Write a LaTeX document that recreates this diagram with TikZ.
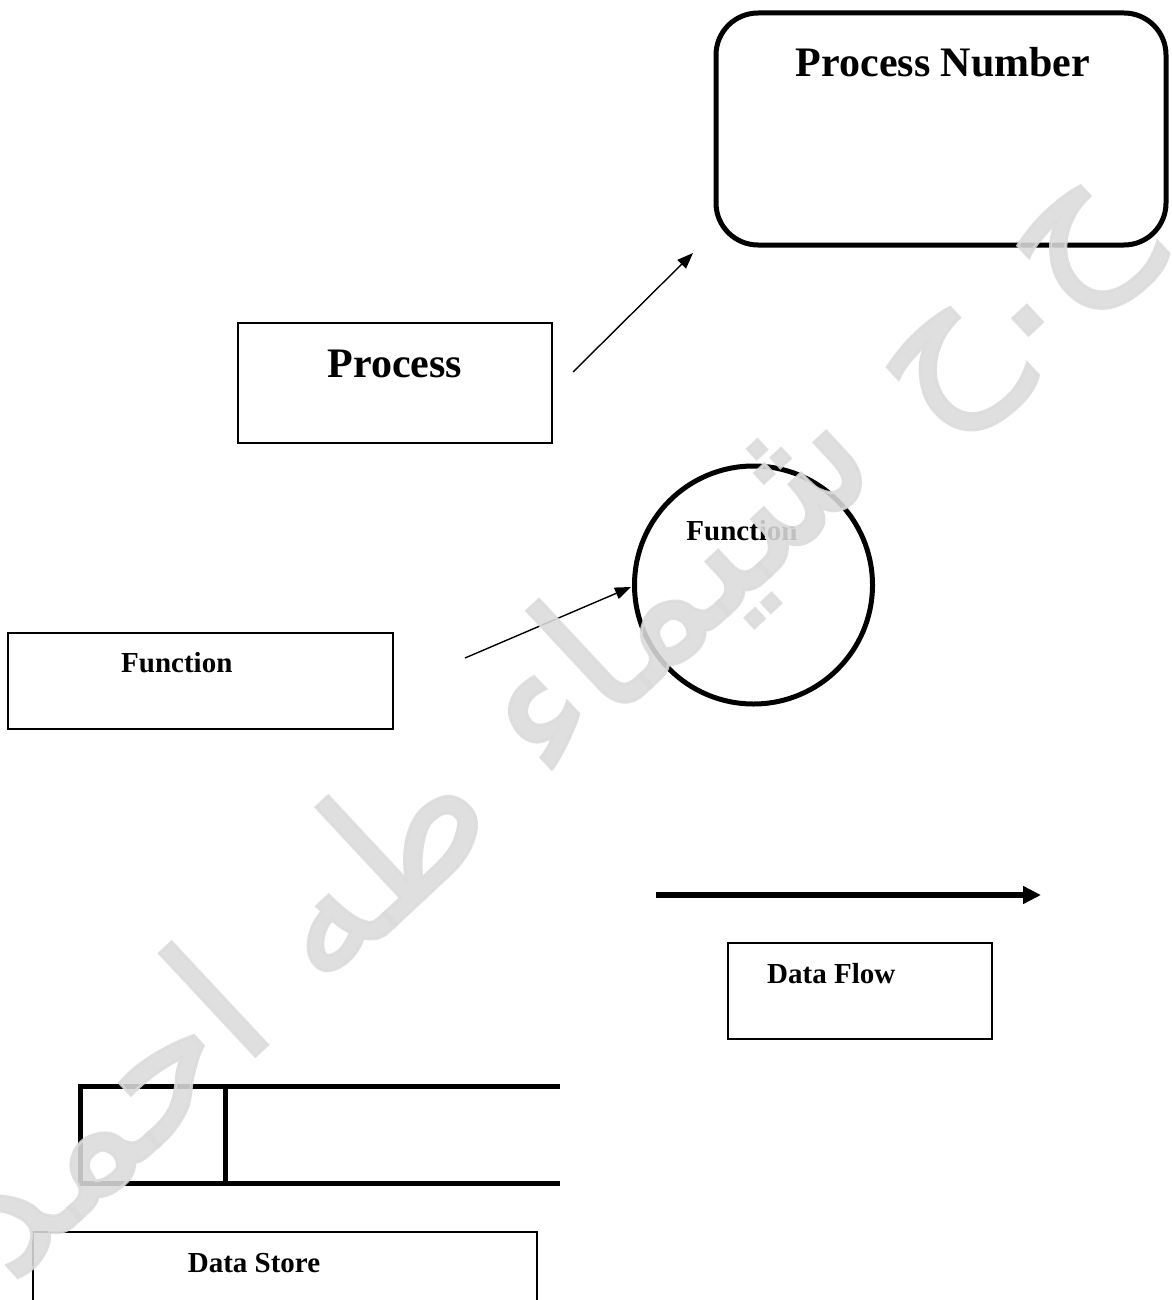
\documentclass[tikz,border=0pt]{standalone}
\usepackage{fontspec}
\setmainfont{Liberation Serif}
\newfontfamily\arabicfont[Script=Arabic,FakeBold=1.6]{DejaVu Sans}
\TeXXeTstate=1
\usetikzlibrary{arrows.meta,shapes.geometric}
\begin{document}
\begin{tikzpicture}[x=1pt,y=-1pt,
  thinbox/.style={draw, rectangle, line width=1.6pt, inner sep=0pt},
  bigtext/.style={font=\fontsize{42}{48}\selectfont\bfseries, inner sep=0pt},
  smalltext/.style={font=\fontsize{29}{34}\selectfont\bfseries, inner sep=0pt},
  thinarrow/.style={line width=1.4pt, -{Triangle[length=16pt,width=12pt]}},
  thickline/.style={line width=5pt},
  watermarktext/.style={rotate=43, inner sep=0pt, text=black!14, opacity=0.88,
    font=\arabicfont\fontsize{185}{185}\selectfont}
]
\useasboundingbox (0,0) rectangle (1171,1300);
\clip (0,0) rectangle (1171,1300);

% process number (rounded box)
\node[draw, rectangle, line width=5pt, rounded corners=42pt,
      minimum width=450pt, minimum height=232pt] (pnum) at (941,129) {};
\node[bigtext, anchor=base] (pnumtxt) at (943,77) {Process Number};

% process box
\node[thinbox, minimum width=314pt, minimum height=120pt] (proc) at (395,383) {};
\node[bigtext, anchor=base] (proctxt) at (395,377) {Process};

\coordinate (a1s) at (573,372);
\coordinate (a1e) at (693,253);
\draw[thinarrow] (a1s) -- (a1e);

% function circle
\node[draw, circle, line width=5pt, minimum size=238pt, inner sep=0pt] (circ) at (753.5,585) {};
\node[smalltext, anchor=base] (circtxt) at (742,540) {Function};

% function box
\node[thinbox, minimum width=385pt, minimum height=96pt] (func) at (200.5,681) {};
\node[smalltext, anchor=base west] (functxt) at (121,672) {Function};

\coordinate (a2s) at (465,658);
\coordinate (a2e) at (631,587);
\draw[thinarrow] (a2s) -- (a2e);

% data flow
\coordinate (dfs) at (656,895);
\coordinate (dfe) at (1041,895);
\draw[line width=5.5pt, -{Triangle[length=18pt,width=17pt]}] (dfs) -- (dfe);
\node[thinbox, minimum width=264pt, minimum height=96pt] (dflow) at (860,991) {};
\node[smalltext, anchor=base west] (dflowtxt) at (767,983) {Data Flow};

% data store symbol
\coordinate (dsa) at (560,1086);
\coordinate (dsb) at (80,1086);
\coordinate (dsc) at (80,1183);
\coordinate (dsd) at (560,1183);
\coordinate (dse) at (225,1086);
\coordinate (dsf) at (225,1183);
\draw[thickline] (dsa) -- (dsb) -- (dsc) -- (dsd);
\draw[thickline] (dse) -- (dsf);
\node[thinbox, minimum width=504pt, minimum height=108pt] (dstore) at (285,1286) {};
\node[smalltext, anchor=base] (dstoretxt) at (254,1272) {Data Store};

% watermark
\node[watermarktext, anchor=east] (wm) at (1112,192) {\beginR ح.ح شيماء طه احمد\endR};
\end{tikzpicture}
\end{document}
